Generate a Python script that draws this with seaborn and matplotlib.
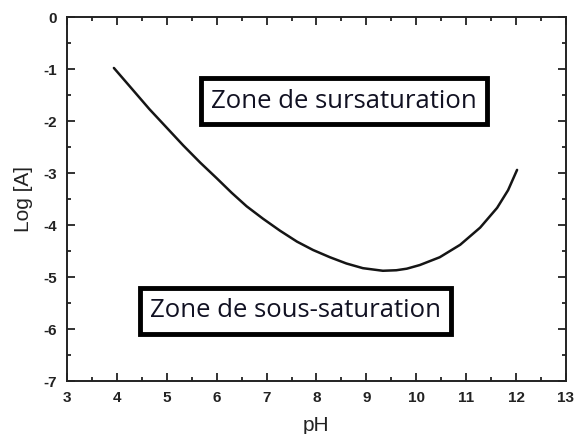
import numpy as np
import pandas as pd
import seaborn as sns
import matplotlib.pyplot as plt
from matplotlib.ticker import MultipleLocator

# valeurs
ph = [3.94, 4.3, 4.65, 5.00, 5.33, 5.67, 6.00, 6.30, 6.60, 6.93, 7.27, 7.61, 7.93,
      8.27, 8.60, 8.93, 9.33, 9.60, 9.81, 10.07, 10.47, 10.88, 11.28, 11.62, 11.84, 12.02]
log_a = [-0.98, -1.38, -1.77, -2.13, -2.47, -2.80, -3.10, -3.38, -3.64, -3.88, -4.11, -4.32, -4.48,
         -4.62, -4.74, -4.83, -4.88, -4.87, -4.84, -4.77, -4.62, -4.38, -4.05, -3.67, -3.33, -2.94]

x_ticks = list(range(3, 14))
y_ticks = list(range(-7, 1))

df = pd.DataFrame({'pH': ph, 'logA': log_a})

sns.set_style('ticks')
plt.rcParams['font.family'] = ['Liberation Sans', 'DejaVu Sans']
plt.rcParams['axes.unicode_minus'] = False

fig = plt.figure(figsize=(5.79, 4.34), dpi=100)
ax = fig.add_axes([0.1157, 0.1221, 0.8618, 0.8387])

sns.lineplot(data=df, x='pH', y='logA', color='#151515', linewidth=1.8, ax=ax)

ax.set_xlim(3, 13)
ax.set_ylim(-7, 0)
ax.set_xticks(x_ticks)
ax.set_yticks(y_ticks)
ax.xaxis.set_minor_locator(MultipleLocator(0.5))
ax.yaxis.set_minor_locator(MultipleLocator(0.5))
ax.tick_params(which='both', direction='in', top=True, right=True, width=1.3, colors='#222222',
               labelsize=11, labelcolor='#222222')
ax.tick_params(which='major', length=6, pad=7)
ax.tick_params(which='minor', length=3)
for lab in ax.get_xticklabels() + ax.get_yticklabels():
    lab.set_fontweight('bold')
for s in ax.spines.values():
    s.set_linewidth(1.4)
    s.set_color('#222222')

ax.set_xlabel('pH', fontsize=15, labelpad=8, color='#222222')
ax.set_ylabel('Log [A]', fontsize=15, labelpad=8, color='#222222')

box = dict(boxstyle='square,pad=0.4', facecolor='white', edgecolor='black', linewidth=3.5)
ax.text(8.55, -1.62, 'Zone de sursaturation', family='Open Sans', fontsize=18.5,
        color='#111122', ha='center', va='center', bbox=box)
ax.text(7.58, -5.65, 'Zone de sous-saturation', family='Open Sans', fontsize=18.5,
        color='#111122', ha='center', va='center', bbox=box)

fig.savefig('out.png', dpi=100)
